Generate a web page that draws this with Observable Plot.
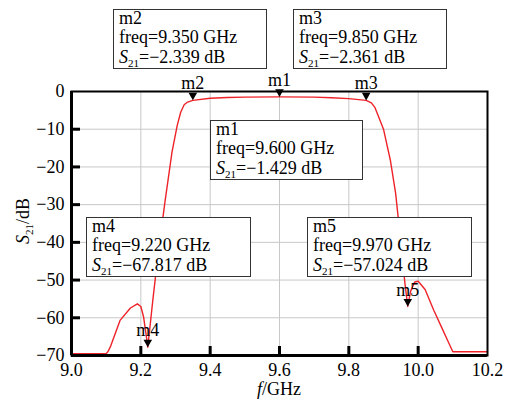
<!DOCTYPE html>
<html>
<head>
<meta charset="utf-8">
<script src="https://cdn.jsdelivr.net/npm/d3@7"></script>
<script src="https://cdn.jsdelivr.net/npm/@observablehq/plot@0.6"></script>
<style>
  html, body { margin: 0; padding: 0; background: #fff; }
  #chart svg { display: block; }
</style>
</head>
<body>
<div id="chart"></div>
<script>
// ---- data ----
const freq = [9.0, 9.10, 9.105, 9.113, 9.14, 9.17, 9.19, 9.20, 9.208, 9.216, 9.22,
  9.235, 9.25, 9.27, 9.29, 9.305, 9.315, 9.325, 9.335, 9.35, 9.40, 9.45, 9.50,
  9.60, 9.70, 9.75, 9.80, 9.85, 9.865, 9.875, 9.885, 9.90, 9.92, 9.935, 9.95,
  9.962, 9.97, 9.978, 9.99, 10.0, 10.02, 10.045, 10.07, 10.09, 10.10, 10.2];
const s21 = [-69.5, -69.5, -69.0, -67.5, -60.7, -57.4, -56.3, -57.0, -59.8, -65.0, -67.8,
  -55.0, -43.0, -29.0, -16.0, -9.0, -5.5, -3.5, -2.8, -2.339, -1.8, -1.6, -1.5,
  -1.429, -1.5, -1.65, -1.9, -2.361, -3.0, -4.2, -6.5, -10.0, -18.3, -27.0, -40.0,
  -51.0, -57.0, -53.0, -50.5, -50.3, -52.5, -58.0, -63.0, -67.0, -69.0, -69.0];

const markerNames = ["m1", "m2", "m3", "m4", "m5"];
const markerFreq = [9.600, 9.350, 9.850, 9.220, 9.970];
const markerS21 = [-1.429, -2.339, -2.361, -67.817, -57.024];

const xTicks = [9.0, 9.2, 9.4, 9.6, 9.8, 10.0, 10.2];
const yTicks = [0, -10, -20, -30, -40, -50, -60, -70];

// ---- annotation layout (pixels) ----
const boxLayout = [
  {name: "m1", x: 210, y: 120, w: 152, h: 59},
  {name: "m2", x: 113, y: 9, w: 153, h: 59},
  {name: "m3", x: 293, y: 9, w: 153, h: 59},
  {name: "m4", x: 86, y: 217, w: 164, h: 59},
  {name: "m5", x: 307, y: 217, w: 164, h: 59}
];

const curve = freq.map((f, i) => ({f, s: s21[i]}));
const markers = markerNames.map((n, i) => ({name: n, f: markerFreq[i], s: markerS21[i]}));

const downTriangle = {
  draw(ctx) {
    ctx.moveTo(0, 0);
    ctx.lineTo(-4.3, -7.6);
    ctx.lineTo(4.3, -7.6);
    ctx.closePath();
  }
};

const fmtY = d => d === 0 ? "0" : "\u2212" + Math.abs(d);
const FONT = "Liberation Serif";

const chart = Plot.plot({
  width: 509,
  height: 399,
  marginLeft: 71,
  marginRight: 22,
  marginTop: 91,
  marginBottom: 44,
  style: {fontSize: "18px", background: "#fff", color: "#000"},
  x: {domain: [9.0, 10.2], ticks: xTicks, tickSize: 0, tickPadding: 8, tickFormat: d => d.toFixed(1), label: null},
  y: {domain: [-70, 0], ticks: yTicks, tickSize: 0, tickPadding: 7, tickFormat: fmtY, label: null},
  marks: [
    Plot.ruleX(xTicks.slice(1, -1), {x: d => d, stroke: "#c8c8c8", strokeWidth: 1}),
    Plot.ruleY(yTicks.slice(1, -1), {y: d => d, stroke: "#c8c8c8", strokeWidth: 1}),
    Plot.line(curve, {x: "f", y: "s", stroke: "#ee2229", strokeWidth: 1.4}),
    Plot.frame({stroke: "#000", strokeWidth: 2}),
    Plot.ruleX([xTicks[0]], {x: d => d, stroke: "#000", strokeWidth: 3}),
    Plot.ruleY([yTicks[yTicks.length - 1]], {y: d => d, stroke: "#000", strokeWidth: 3}),
    Plot.ruleX(xTicks.slice(1, -1), {x: d => d, insetTop: 255, stroke: "#000", strokeWidth: 3}),
    Plot.ruleY(yTicks.slice(1, -1), {y: d => d, insetRight: 407, stroke: "#000", strokeWidth: 3}),
    Plot.dot(markers, {x: "f", y: "s", symbol: downTriangle, fill: "#000", stroke: "none"}),
    Plot.text(markers, {x: "f", y: "s", text: "name", dy: -11, lineAnchor: "bottom", fontSize: 18, fill: "#000"})
  ]
});

document.getElementById("chart").append(chart);

const svg = d3.select(chart);

// marker readout boxes
boxLayout.forEach(b => {
  const m = markers.find(d => d.name === b.name);
  const g = svg.append("g").attr("font-size", 18)
    .attr("fill", "#000").attr("text-anchor", "start");
  g.append("rect").attr("x", b.x + 0.5).attr("y", b.y + 0.5).attr("width", b.w).attr("height", b.h)
    .attr("fill", "#fff").attr("stroke", "#333").attr("stroke-width", 1);
  const tx = b.x + 6;
  g.append("text").attr("x", tx).attr("y", b.y + 15).text(m.name);
  g.append("text").attr("x", tx).attr("y", b.y + 34).text("freq=" + m.f.toFixed(3) + " GHz");
  const t = g.append("text").attr("x", tx).attr("y", b.y + 53.5);
  t.append("tspan").attr("font-style", "italic").text("S");
  t.append("tspan").attr("font-size", 11).attr("dy", 4).text("21");
  t.append("tspan").attr("dy", -4).text("=" + (m.s < 0 ? "\u2212" : "") + Math.abs(m.s).toFixed(3) + " dB");
});

// axis labels
const yl = svg.append("text").attr("font-size", 18).attr("fill", "#000")
  .attr("text-anchor", "middle").attr("transform", "translate(29,221) rotate(-90)");
yl.append("tspan").attr("font-style", "italic").text("S");
yl.append("tspan").attr("font-size", 11).attr("dy", 4).text("21");
yl.append("tspan").attr("dy", -4).text("/dB");

const xl = svg.append("text").attr("font-size", 18).attr("fill", "#000")
  .attr("text-anchor", "middle").attr("x", 279).attr("y", 395);
xl.append("tspan").attr("font-style", "italic").text("f");
xl.append("tspan").text("/GHz");

// force the serif face on every text node
svg.attr("font-family", FONT);
svg.selectAll("g").attr("font-family", FONT);
svg.selectAll("text, tspan").attr("font-family", FONT)
  .each(function() { this.style.setProperty("font-family", FONT, "important"); });
chart.style.setProperty("font-family", FONT, "important");
</script>
</body>
</html>
